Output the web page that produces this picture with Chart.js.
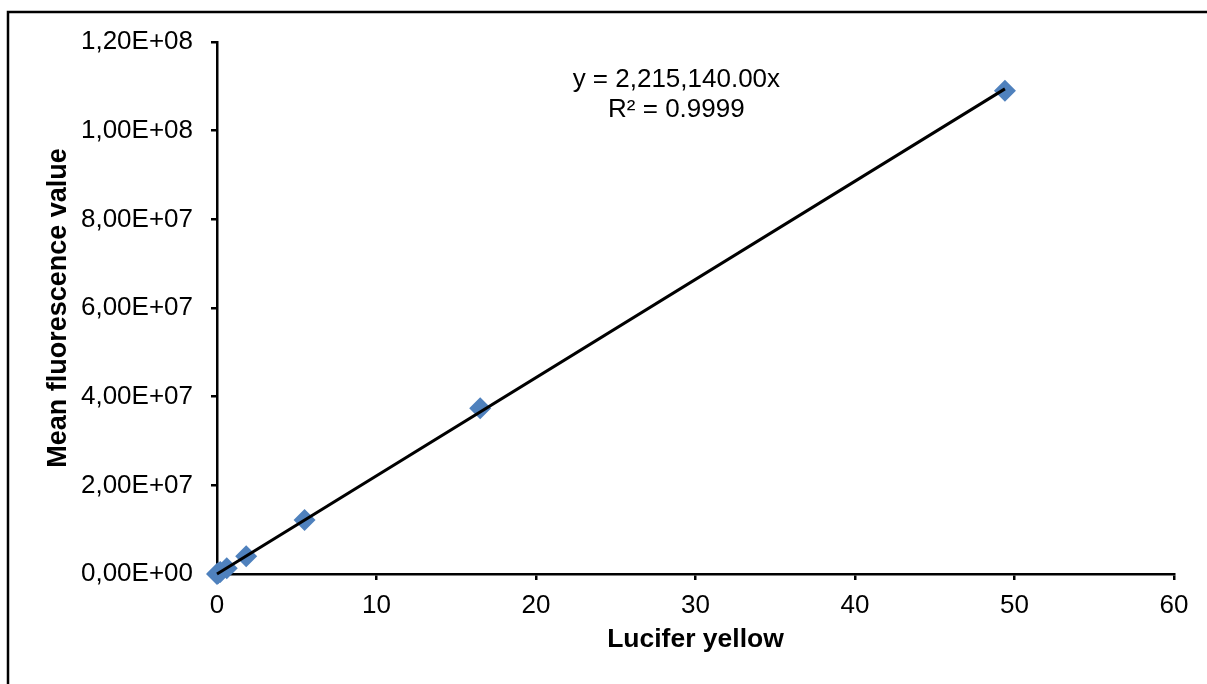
<!DOCTYPE html>
<html lang="en">
<head>
<meta charset="UTF-8">
<title>Lucifer yellow calibration</title>
<script src="https://cdn.jsdelivr.net/npm/chart.js"></script>
<style>
  html, body { margin: 0; padding: 0; background: #fff; }
  #wrap { position: relative; width: 1207px; height: 684px; }
</style>
</head>
<body>
<div id="wrap"><canvas id="calChart" width="1207" height="684"></canvas></div>
<script>
// Lucifer yellow concentration vs mean fluorescence
const concentration = [0, 0.068, 0.203, 0.61, 1.83, 5.49, 16.5, 49.4];
const fluorescence = [0, 1.5e5, 4.5e5, 1.3e6, 4.0e6, 1.22e7, 3.74e7, 1.09e8];

// trendline (forced through origin)
const slope = 2215140;
const rSquared = '0.9999';

const xTicks = [0, 10, 20, 30, 40, 50, 60];
const yTicks = [0, 2e7, 4e7, 6e7, 8e7, 1e8, 1.2e8];
const yTickLabels = ['0,00E+00', '2,00E+07', '4,00E+07', '6,00E+07', '8,00E+07', '1,00E+08', '1,20E+08'];

const FONT = '"Liberation Sans", Arial, sans-serif';

const points = concentration.map((x, i) => ({ x: x, y: fluorescence[i] }));
const xLast = concentration[concentration.length - 1];
const trend = [{ x: 0, y: 0 }, { x: xLast, y: slope * xLast }];

// outer frame + equation label
const extras = {
  id: 'extras',
  beforeDraw(chart) {
    const ctx = chart.ctx;
    ctx.save();
    ctx.strokeStyle = '#000';
    ctx.lineWidth = 2.5;
    ctx.beginPath();
    ctx.moveTo(8, chart.height + 5);
    ctx.lineTo(8, 12);
    ctx.lineTo(chart.width + 5, 12);
    ctx.stroke();
    ctx.restore();
  },
  afterDraw(chart) {
    const ctx = chart.ctx;
    const xs = chart.scales.x;
    const cx = xs.getPixelForValue(28.8);
    ctx.save();
    ctx.fillStyle = '#000';
    ctx.font = '26px ' + FONT;
    ctx.textAlign = 'center';
    ctx.textBaseline = 'middle';
    ctx.fillText('y = ' + slope.toLocaleString('en-US', { minimumFractionDigits: 2 }) + 'x', cx, 80);
    ctx.fillText('R\u00b2 = ' + rSquared, cx, 110);
    ctx.restore();
  }
};

new Chart(document.getElementById('calChart'), {
  type: 'scatter',
  data: {
    datasets: [
      {
        label: 'Trend',
        type: 'line',
        data: trend,
        borderColor: '#000',
        borderWidth: 3,
        pointRadius: 0,
        fill: false,
        clip: false,
        order: 0
      },
      {
        label: 'Mean fluorescence',
        data: points,
        pointStyle: 'rectRot',
        pointRadius: 11,
        pointHoverRadius: 11,
        backgroundColor: '#4F81BD',
        borderColor: '#4F81BD',
        borderWidth: 0,
        clip: false,
        order: 1
      }
    ]
  },
  options: {
    responsive: false,
    animation: false,
    events: [],
    layout: { padding: { top: 42, right: 33, left: 0, bottom: 0 } },
    plugins: { legend: { display: false }, tooltip: { enabled: false } },
    scales: {
      x: {
        type: 'linear',
        min: 0,
        max: 60,
        afterBuildTicks(scale) { scale.ticks = xTicks.map(v => ({ value: v })); },
        afterFit(scale) { scale.height = 110; },
        border: { color: '#000', width: 2.5 },
        grid: { drawOnChartArea: false, drawTicks: true, tickLength: 6, color: '#000', lineWidth: 2.5 },
        ticks: { color: '#000', padding: 10, maxRotation: 0, font: { family: FONT, size: 26 } },
        title: {
          display: true,
          text: 'Lucifer yellow',
          color: '#000',
          padding: { top: 0, bottom: 28 },
          font: { family: FONT, size: 26.5, weight: 'bold' }
        }
      },
      y: {
        type: 'linear',
        min: 0,
        max: 1.2e8,
        afterBuildTicks(scale) { scale.ticks = yTicks.map(v => ({ value: v })); },
        afterFit(scale) { scale.width = 217; },
        border: { color: '#000', width: 2.5 },
        grid: { drawOnChartArea: false, drawTicks: true, tickLength: 6, color: '#000', lineWidth: 2.5 },
        ticks: {
          color: '#000',
          padding: 18,
          font: { family: FONT, size: 26 },
          callback: (v) => yTickLabels[yTicks.indexOf(v)]
        },
        title: {
          display: true,
          text: 'Mean fluorescence value',
          color: '#000',
          padding: { top: 42, bottom: 0 },
          font: { family: FONT, size: 27, weight: 'bold' }
        }
      }
    }
  },
  plugins: [extras]
});
</script>
</body>
</html>
